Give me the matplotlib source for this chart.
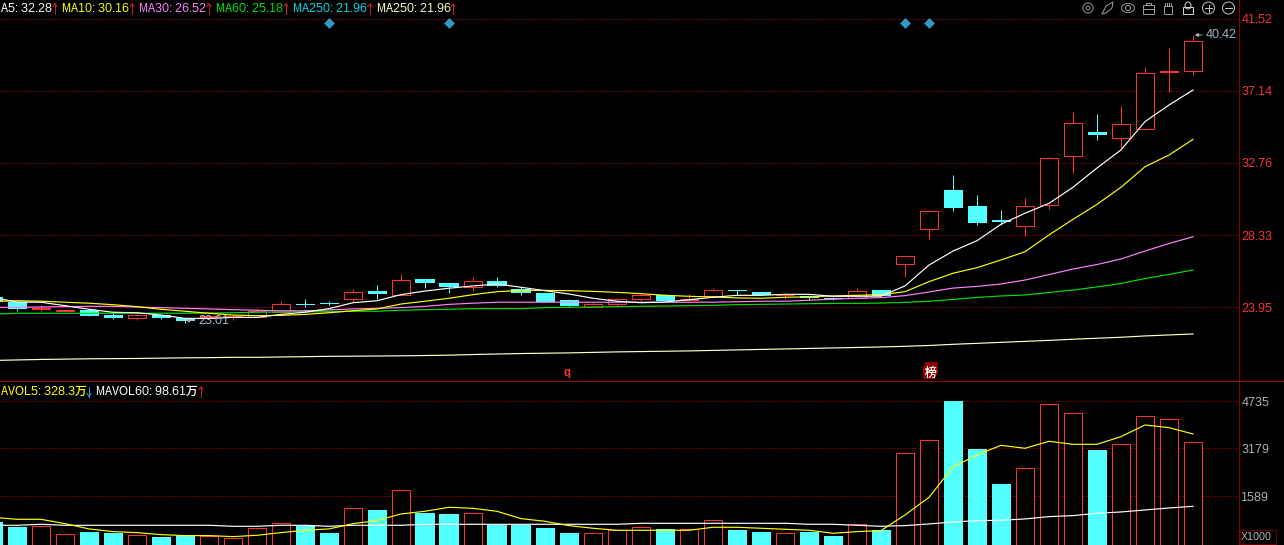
import numpy as np
import matplotlib
matplotlib.use("Agg")
import matplotlib.pyplot as plt
from matplotlib.patches import Circle, Rectangle, Ellipse, Polygon

plt.rcParams['font.family'] = ['Liberation Sans', 'Noto Sans CJK SC', 'DejaVu Sans']
plt.rcParams['text.hinting'] = 'native'
plt.rcParams['text.hinting_factor'] = 1

# daily candles, the first one is cut by the left edge
opens = [24.59, 24.28, 23.86, 23.75, 23.80, 23.49, 23.33, 23.49, 23.33, 23.37, 23.35, 23.39, 23.69, 24.16, 24.22, 24.48, 24.95,
         24.73, 25.68, 25.44, 25.21, 25.54, 25.05, 24.83, 24.39, 23.96, 24.16, 24.48, 24.69, 24.41, 24.65, 25.01, 24.89, 24.68,
         24.65, 24.53, 24.53, 24.99, 26.61, 28.74, 31.09, 30.12, 29.27, 28.92, 30.16, 33.14, 34.62, 34.24, 34.82, 38.29, 38.31]
highs = [24.65, 24.31, 24.08, 23.86, 23.86, 23.60, 23.55, 23.49, 23.33, 23.46, 23.43, 23.90, 24.33, 24.47, 24.34, 25.07, 25.32,
         25.99, 25.68, 25.44, 25.78, 25.78, 25.21, 24.89, 24.47, 24.26, 24.53, 24.81, 24.75, 24.77, 25.13, 25.01, 24.89, 24.73,
         24.68, 24.56, 25.13, 24.99, 27.06, 29.80, 32.00, 30.79, 29.88, 30.61, 33.10, 35.82, 35.71, 36.20, 38.57, 39.73, 40.52]
lows = [24.22, 23.75, 23.69, 23.69, 23.43, 23.25, 23.21, 23.25, 23.01, 23.34, 23.19, 23.34, 23.69, 23.98, 24.10, 24.28, 24.47,
        24.73, 25.15, 24.85, 24.95, 25.21, 24.71, 24.28, 23.96, 23.96, 24.04, 24.34, 24.33, 24.41, 24.57, 24.69, 24.69, 24.47,
        24.41, 24.41, 24.53, 24.64, 25.82, 28.11, 29.82, 28.98, 28.97, 28.32, 29.96, 32.14, 34.15, 33.63, 34.74, 37.07, 38.08]
closes = [24.28, 23.87, 23.92, 23.80, 23.45, 23.31, 23.47, 23.31, 23.15, 23.43, 23.41, 23.73, 24.14, 24.10, 24.16, 24.87, 24.77,
          25.60, 25.44, 25.19, 25.54, 25.27, 24.85, 24.28, 24.04, 24.16, 24.45, 24.69, 24.33, 24.45, 25.00, 24.95, 24.69, 24.73,
          24.51, 24.45, 24.93, 24.64, 27.06, 29.80, 30.02, 29.10, 29.15, 30.10, 33.02, 35.15, 34.44, 35.09, 38.19, 38.33, 40.13]

ma5 = [24.56, 24.28, 24.27, 24.06, 23.84, 23.66, 23.63, 23.49, 23.29, 23.28, 23.35, 23.35, 23.53, 23.66, 23.88, 24.24, 24.36,
       24.73, 24.95, 25.12, 25.26, 25.38, 25.18, 24.97, 24.77, 24.51, 24.33, 24.24, 24.28, 24.42, 24.57, 24.69, 24.69, 24.75,
       24.75, 24.63, 24.63, 24.64, 25.26, 26.53, 27.38, 28.01, 29.01, 29.68, 30.28, 31.26, 32.43, 33.53, 35.25, 36.26, 37.17]
ma10 = [24.31, 24.36, 24.33, 24.27, 24.21, 24.12, 24.00, 23.84, 23.72, 23.60, 23.49, 23.45, 23.47, 23.53, 23.63, 23.75, 23.86,
        24.16, 24.33, 24.51, 24.73, 24.91, 24.99, 24.99, 24.97, 24.93, 24.87, 24.79, 24.69, 24.63, 24.59, 24.53, 24.51, 24.57,
        24.60, 24.65, 24.69, 24.73, 24.91, 25.52, 26.03, 26.37, 26.84, 27.34, 28.36, 29.31, 30.22, 31.26, 32.51, 33.22, 34.17]
ma30 = [23.96, 23.96, 23.98, 24.00, 24.02, 24.02, 23.98, 23.94, 23.90, 23.86, 23.82, 23.78, 23.75, 23.75, 23.80, 23.86, 23.90,
        23.94, 24.02, 24.14, 24.21, 24.27, 24.27, 24.27, 24.27, 24.27, 24.27, 24.27, 24.27, 24.27, 24.27, 24.30, 24.33, 24.33,
        24.39, 24.45, 24.51, 24.55, 24.67, 24.89, 25.13, 25.23, 25.38, 25.62, 25.95, 26.29, 26.56, 26.90, 27.38, 27.84, 28.25]
ma60 = [23.54, 23.60, 23.60, 23.60, 23.60, 23.60, 23.60, 23.60, 23.60, 23.61, 23.63, 23.66, 23.68, 23.69, 23.69, 23.72, 23.72,
        23.78, 23.82, 23.84, 23.88, 23.88, 23.88, 23.94, 23.96, 23.98, 24.00, 24.02, 24.04, 24.06, 24.08, 24.12, 24.14, 24.16,
        24.18, 24.20, 24.20, 24.22, 24.26, 24.33, 24.44, 24.56, 24.65, 24.71, 24.86, 25.01, 25.20, 25.41, 25.71, 25.96, 26.23]
ma250 = [20.73, 20.76, 20.79, 20.81, 20.83, 20.84, 20.85, 20.87, 20.89, 20.90, 20.92, 20.92, 20.94, 20.96, 20.98, 20.99, 21.00,
         21.01, 21.03, 21.05, 21.09, 21.12, 21.15, 21.17, 21.19, 21.22, 21.25, 21.27, 21.29, 21.31, 21.34, 21.37, 21.40, 21.43,
         21.46, 21.49, 21.52, 21.55, 21.59, 21.64, 21.71, 21.77, 21.83, 21.89, 21.95, 22.02, 22.08, 22.14, 22.22, 22.28, 22.34]

# volume in thousands
volumes = [745, 579, 602, 338, 414, 381, 305, 248, 291, 291, 225, 536, 702, 622, 381, 1198, 1142,
           1794, 1043, 1010, 1033, 645, 645, 546, 381, 371, 470, 569, 513, 503, 801, 480, 414, 371,
           414, 281, 669, 480, 3019, 3449, 4750, 3161, 2003, 2522, 4641, 4343, 3128, 3317, 4243, 4144, 3383]
mavol5 = [901, 834, 834, 691, 515, 427, 393, 327, 294, 294, 261, 305, 393, 471, 515, 691, 790,
          1011, 1099, 1232, 1198, 1099, 857, 768, 625, 537, 471, 471, 471, 471, 570, 570, 537, 504,
          471, 371, 427, 459, 978, 1562, 2566, 2963, 3283, 3184, 3416, 3316, 3316, 3570, 3956, 3868, 3658]
mavol60 = [636, 636, 669, 636, 636, 636, 636, 636, 636, 636, 603, 603, 636, 636, 603, 636, 636,
           636, 669, 669, 669, 669, 669, 669, 669, 669, 669, 702, 702, 702, 702, 702, 702, 702,
           669, 669, 636, 603, 625, 680, 746, 790, 801, 846, 923, 956, 1033, 1077, 1143, 1209, 1265]

price_ticks = [41.52, 37.14, 32.76, 28.33, 23.95]
vol_ticks = [4735, 3179, 1589]
signal_days = [13, 18, 37, 38]

RED = '#ff3232'
CYAN = '#54ffff'
DARK = '#900000'
DOT = '#c00000'
GREY = '#b4b4b4'
FS = 8.7
LW = 0.72
MA_LW = 0.85

days = np.arange(len(opens)) - 1
fig = plt.figure(figsize=(12.84, 5.45), dpi=100, facecolor='black')
W, H = 1284.0, 545.0


def pane(top, bottom):
    ax = fig.add_axes([0, 1 - bottom / H, 1238.5 / W, (bottom - top) / H], facecolor='black')
    ax.set_xlim(-17 / 24, (1238.5 - 17) / 24)
    ax.set_xticks([])
    ax.yaxis.tick_right()
    ax.tick_params(axis='y', length=0, pad=2)
    for s in ax.spines.values():
        s.set_visible(False)
    return ax


def dotted(ax, t):
    ax.axhline(t, color=DOT, lw=0.72, ls=(0, (1, 2)), zorder=1)


ax = pane(0, 380)
ax.set_ylim(42.645 - 0.0608 * 380, 42.645)
ax.set_yticks(price_ticks, [f'{t:.2f}' for t in price_ticks], color=RED, fontsize=FS)
for t in price_ticks:
    dotted(ax, t)

for d, o, h, l, c in zip(days, opens, highs, lows, closes):
    col = RED if c >= o else CYAN
    ax.vlines(d, l, h, color=col, lw=LW, zorder=2, snap=True)
    if c >= o:
        ax.bar(d, c - o, bottom=o, width=18 / 24, facecolor='black', edgecolor=col, lw=LW, zorder=3)
    else:
        ax.bar(d, c - o, bottom=o, width=19 / 24, facecolor=col, edgecolor=col, lw=0, zorder=3)

for vals, col in [(ma250, '#ffffc8'), (ma60, '#00e000'), (ma30, '#ff80ff'), (ma10, '#ffff00'), (ma5, '#ffffff')]:
    ax.plot(days, vals, color=col, lw=MA_LW, zorder=4)

ax.scatter(signal_days, [42.645 - 0.0608 * 22.5] * 4, marker='D', s=30, color='#2e9bc9', lw=0, zorder=5)

vx = pane(381, 545)
vx.set_ylim((544.5 - 545) * 33.1, (544.5 - 381) * 33.1)
vx.set_yticks(vol_ticks, [str(t) for t in vol_ticks], color=GREY, fontsize=FS)
for t in vol_ticks:
    dotted(vx, t)
for d, v, o, c in zip(days, volumes, opens, closes):
    if c >= o:
        vx.bar(d, v, width=18 / 24, facecolor='black', edgecolor=RED, lw=LW, zorder=3)
    else:
        vx.bar(d, v, width=19 / 24, facecolor=CYAN, lw=0, zorder=3)
vx.plot(days, mavol60, color='#ffffff', lw=MA_LW, zorder=4)
vx.plot(days, mavol5, color='#ffff00', lw=MA_LW, zorder=4)

# overlay in pixels: frame lines, header texts, icons
ov = fig.add_axes([0, 0, 1, 1], facecolor='none')
ov.set_xlim(0, W)
ov.set_ylim(H, 0)
ov.axis('off')
ov.plot([1238.5, 1238.5], [0, 545], color=DARK, lw=LW)
ov.plot([0, 1284], [380.5, 380.5], color=DARK, lw=LW)
ov.plot([0, 1238], [544.5, 544.5], color=DARK, lw=LW)


def label(x, y, s, col, **kw):
    ov.text(x, y, s, color=col, fontsize=kw.pop('fontsize', FS), va='center', ha='left', **kw)


def arrow(x, y, col, up=True):
    tip, tail = (y - 5, y + 5) if up else (y + 5, y - 5)
    head = tip + 3 if up else tip - 3
    ov.plot([x, x], [tip, tail], color=col, lw=0.7)
    ov.plot([x - 2, x, x + 2], [head, tip, head], color=col, lw=0.7)


header = [(1, 'A5: 32.28', '#ffffff'), (62, 'MA10: 30.16', '#ffff00'), (139, 'MA30: 26.52', '#ff80ff'),
          (216, 'MA60: 25.18', '#00e000'), (293, 'MA250: 21.96', '#00d8e8'), (377, 'MA250: 21.96', '#ffffc8')]
arrow_x = [55, 132, 209, 286, 370, 453]
for (x, s, col), a_x in zip(header, arrow_x):
    label(x, 8, s, col)
    arrow(a_x, 8.5, '#d02020')

label(1, 391, 'AVOL5: 328.3万', '#ffff00', fontsize=8.3)
arrow(89, 391.5, '#2e9bc9', up=False)
label(96, 391, 'MAVOL60: 98.61万', '#ffffff', fontsize=8.3)
arrow(201, 391.5, '#d02020')

ov.annotate('', xy=(1192, 35), xytext=(1205, 35), arrowprops=dict(arrowstyle='-|>', color=GREY, lw=0.7, mutation_scale=5))
label(1206, 35, '40.42', '#a8bcd0')
ov.annotate('', xy=(183, 320.5), xytext=(197, 320.5), arrowprops=dict(arrowstyle='-|>', color=GREY, lw=0.7, mutation_scale=5))
label(198, 320.5, '23.01', '#a8bcd0')

label(564, 373, 'q', RED, fontweight='bold')
ov.add_patch(Rectangle((925, 362), 13, 13, color=DARK, lw=0))
ov.add_patch(Rectangle((923, 366), 12, 13, color=DARK, lw=0))
ov.text(930.5, 372.5, '榜', color='#ffffff', fontsize=8.5, ha='center', va='center')

ov.add_patch(Rectangle((1239.5, 529.5), 36.5, 14, fill=False, ec='#600000', lw=LW))
label(1240.5, 536.5, 'X1000', GREY, fontsize=8.2)

# toolbar icons
ic = '#9a9a9a'
ov.add_patch(Circle((1088, 8), 5, fill=False, ec=ic, lw=LW))
ov.add_patch(Circle((1088, 8), 2, fill=False, ec=ic, lw=LW))
ov.add_patch(Polygon([[1102, 14], [1106, 6], [1113, 2], [1112, 8], [1106, 13]], fill=False, ec=ic, lw=LW))
ov.add_patch(Ellipse((1128, 8), 13, 9, fill=False, ec=ic, lw=LW))
ov.add_patch(Circle((1128, 8), 2.5, fill=False, ec=ic, lw=LW))
ov.add_patch(Rectangle((1143, 5), 11, 9, fill=False, ec=ic, lw=LW))
ov.add_patch(Rectangle((1146, 2.5), 5, 2.5, fill=False, ec=ic, lw=LW))
ov.plot([1143, 1154], [9, 9], color=ic, lw=LW)
ov.add_patch(Rectangle((1164, 6), 8, 8, fill=False, ec=ic, lw=LW))
for hx in [1165, 1167, 1169, 1171]:
    ov.plot([hx, hx], [2.5, 6], color=ic, lw=LW)
ov.add_patch(Rectangle((1183, 7), 10, 7, fill=False, ec='#d0d0d0', lw=LW))
ov.add_patch(Ellipse((1188, 5.5), 6, 7, fill=False, ec='#d0d0d0', lw=LW))
for cx in [1208.5, 1228.5]:
    ov.add_patch(Circle((cx, 8), 6, fill=False, ec='#c0c0c0', lw=LW))
    ov.plot([cx - 3.5, cx + 3.5], [8, 8], color='#c0c0c0', lw=LW)
ov.plot([1208.5, 1208.5], [4.5, 11.5], color='#c0c0c0', lw=LW)

fig.savefig('out.png', dpi=100, facecolor='black')
